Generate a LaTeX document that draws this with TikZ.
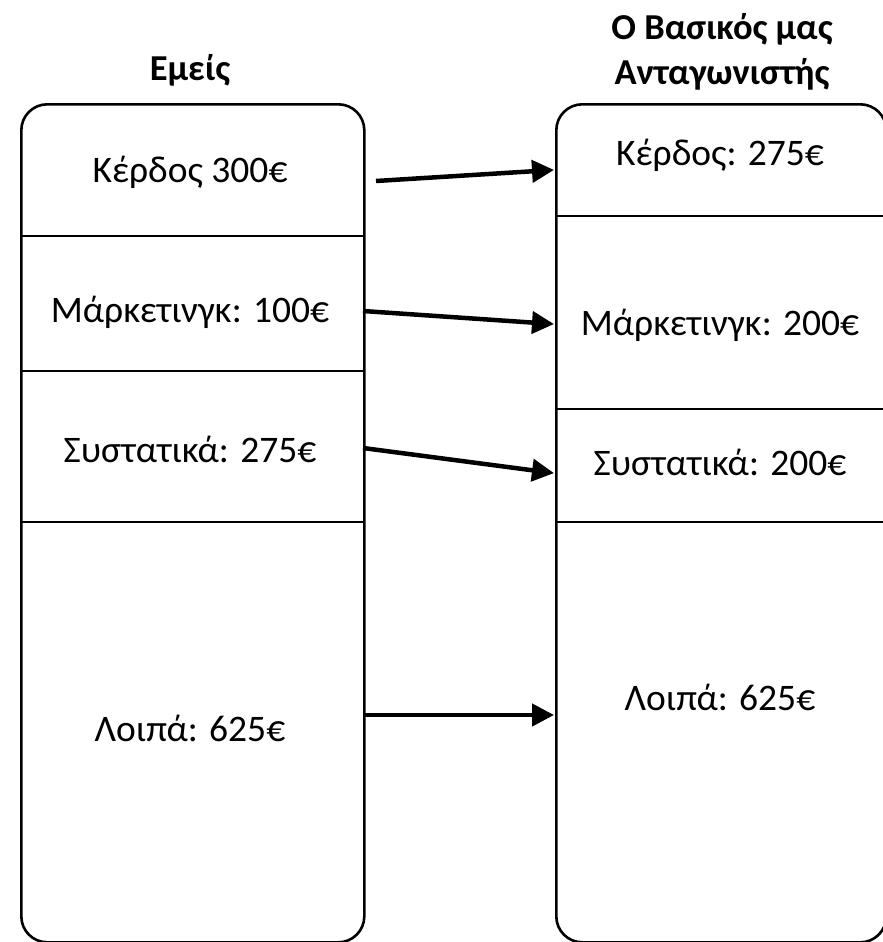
\documentclass[tikz,border=0pt]{standalone}
\usepackage{fontspec}
\setmainfont{Carlito}
\usetikzlibrary{arrows.meta}
\begin{document}
\begin{tikzpicture}[x=1pt,y=-1pt,
  box/.style={draw=black, line width=2.6pt, rounded corners=26pt, fill=white, anchor=north west, inner sep=0pt},
  divider/.style={draw=black, line width=2.4pt},
  lbl/.style={font=\fontsize{37.5}{42}\selectfont, inner sep=0pt},
  ttl/.style={font=\fontsize{36.5}{45}\selectfont\bfseries, align=center, inner sep=0pt},
  conn/.style={line width=4.5pt, -{Triangle[length=22pt,width=22pt]}, shorten >=-1pt}
]
\useasboundingbox (0,0) rectangle (883,942);
% boxes
\node[box, minimum width=343pt, minimum height=838pt] (L) at (20,103) {};
\node[box, minimum width=330pt, minimum height=838pt] (R) at (555,103) {};
% dividers
\draw[divider] (20,236) -- (363,236);
\draw[divider] (20,371) -- (363,371);
\draw[divider] (20,522) -- (363,522);
\draw[divider] (555,216) -- (885,216);
\draw[divider] (555,409) -- (885,409);
\draw[divider] (555,522) -- (885,522);
% titles
\node[ttl] (tl) at (190,70) {Εμείς};
\node[ttl] (tr) at (722,52) {Ο Βασικός μας\\Ανταγωνιστής};
% labels left
\node[lbl] (l1) at (190,172) {Κέρδος 300€};
\node[lbl] (l2) at (190,312) {Μάρκετινγκ: 100€};
\node[lbl] (l3) at (190,449) {Συστατικά: 275€};
\node[lbl] (l4) at (190,728) {Λοιπά: 625€};
% labels right
\node[lbl] (r1) at (720,155) {Κέρδος: 275€};
\node[lbl] (r2) at (720,325) {Μάρκετινγκ: 200€};
\node[lbl] (r3) at (720,462) {Συστατικά: 200€};
\node[lbl] (r4) at (720,697) {Λοιπά: 625€};
% arrow end points
\coordinate (s1) at (376,181);
\coordinate (e1) at (553,170);
\coordinate (s2) at (363,311);
\coordinate (e2) at (553,324);
\coordinate (s3) at (363,448);
\coordinate (e3) at (553,473);
\coordinate (s4) at (363,715);
\coordinate (e4) at (553,715);
\draw[conn] (s1) -- (e1);
\draw[conn] (s2) -- (e2);
\draw[conn] (s3) -- (e3);
\draw[conn] (s4) -- (e4);
\end{tikzpicture}
\end{document}
